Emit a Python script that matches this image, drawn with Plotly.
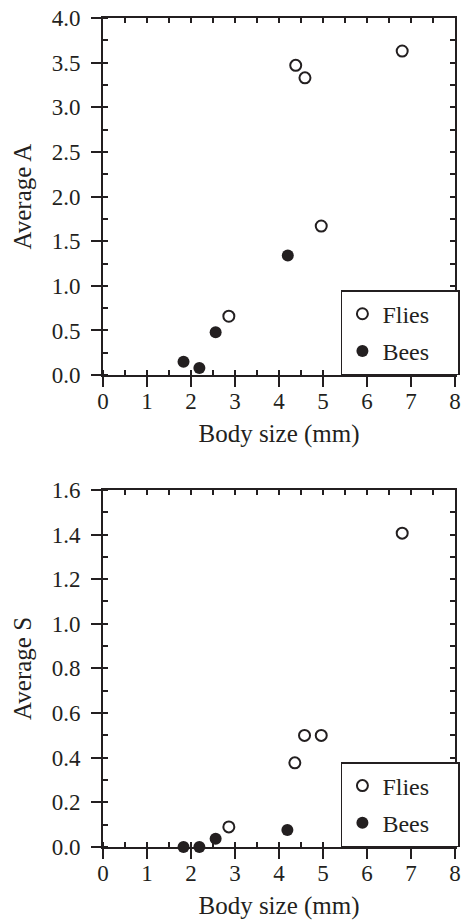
import plotly.graph_objects as go

# ---- data ----
fly_size_A = [2.86, 4.38, 4.59, 4.96, 6.80]
fly_A = [0.66, 3.47, 3.33, 1.67, 3.63]
bee_size_A = [1.83, 2.19, 2.56, 4.20]
bee_A = [0.15, 0.08, 0.48, 1.34]

fly_size_S = [2.86, 4.36, 4.58, 4.96, 6.80]
fly_S = [0.09, 0.377, 0.50, 0.50, 1.406]
bee_size_S = [1.83, 2.19, 2.56, 4.19]
bee_S = [0.0, 0.0, 0.037, 0.076]

series_names = ["Flies", "Bees"]
x_title = "Body size (mm)"
y_title_top = "Average A"
y_title_bot = "Average S"

FONT = "Liberation Serif, Times New Roman, serif"
INK = "#231f20"
TOP_DOM = [0.5692, 1.0]
BOT_DOM = [0.0, 0.4308]
PAD = "\u00a0" * 4  # trailing room inside the legend box

fig = go.Figure()

open_marker = dict(symbol="circle-open", size=11, color=INK, line=dict(width=2, color=INK))
fill_marker = dict(symbol="circle", size=12, color=INK, line=dict(width=0))

fig.add_trace(go.Scatter(x=fly_size_A, y=fly_A, mode="markers", name=series_names[0] + PAD,
                         marker=open_marker, xaxis="x", yaxis="y", legend="legend",
                         legendgroup="f1", cliponaxis=False))
fig.add_trace(go.Scatter(x=bee_size_A, y=bee_A, mode="markers", name=series_names[1] + PAD,
                         marker=fill_marker, xaxis="x", yaxis="y", legend="legend",
                         legendgroup="b1", cliponaxis=False))
fig.add_trace(go.Scatter(x=fly_size_S, y=fly_S, mode="markers", name=series_names[0] + PAD,
                         marker=open_marker, xaxis="x2", yaxis="y2", legend="legend2",
                         legendgroup="f2", cliponaxis=False))
fig.add_trace(go.Scatter(x=bee_size_S, y=bee_S, mode="markers", name=series_names[1] + PAD,
                         marker=fill_marker, xaxis="x2", yaxis="y2", legend="legend2",
                         legendgroup="b2", cliponaxis=False))
# empty traces so the mirrored tick axes are drawn
fig.add_trace(go.Scatter(x=[], y=[], xaxis="x3", yaxis="y3", showlegend=False, hoverinfo="skip"))
fig.add_trace(go.Scatter(x=[], y=[], xaxis="x4", yaxis="y4", showlegend=False, hoverinfo="skip"))

tickfont = dict(family=FONT, size=23, color=INK)
titlefont = dict(family=FONT, size=25, color=INK)

def xax(anchor):
    return dict(range=[0, 8], dtick=1, tick0=0, ticks="outside", ticklen=10, tickwidth=1.5,
                tickcolor=INK, showline=True, linewidth=2, linecolor=INK, mirror=True,
                showgrid=False, zeroline=False, tickfont=tickfont, anchor=anchor,
                ticklabelstandoff=-6,
                title=dict(text=x_title, font=titlefont, standoff=12),
                minor=dict(ticks="inside", dtick=0.5, ticklen=5, tickwidth=1.5, tickcolor=INK,
                           showgrid=False))

def yax(rng, dt, mdt, title, dom, anchor):
    return dict(range=rng, dtick=dt, tick0=0, ticks="outside", ticklen=10, tickwidth=1.5,
                tickcolor=INK, showline=True, linewidth=2, linecolor=INK, mirror=True,
                showgrid=False, zeroline=False, tickfont=tickfont, tickformat=".1f",
                domain=dom, anchor=anchor, ticklabelstandoff=6,
                title=dict(text=title, font=titlefont, standoff=13),
                minor=dict(ticks="inside", dtick=mdt, ticklen=5, tickwidth=1.5, tickcolor=INK,
                           showgrid=False))

def mirror_x(over, anchor):
    return dict(overlaying=over, anchor=anchor, side="top", range=[0, 8], dtick=0.5, tick0=0,
                ticks="inside", ticklen=5, tickwidth=1.5, tickcolor=INK, showticklabels=False,
                showline=False, showgrid=False, zeroline=False)

def mirror_y(over, anchor, rng, dt):
    return dict(overlaying=over, anchor=anchor, side="right", range=rng, dtick=dt, tick0=0,
                ticks="inside", ticklen=5, tickwidth=1.5, tickcolor=INK, showticklabels=False,
                showline=False, showgrid=False, zeroline=False)

legend_style = dict(xref="paper", yref="paper", x=1.0 + 5 / 358, xanchor="right", yanchor="bottom",
                    bgcolor="white", bordercolor=INK, borderwidth=1.5,
                    font=dict(family=FONT, size=24, color=INK), traceorder="grouped",
                    tracegroupgap=3)

fig.update_layout(
    width=467, height=924,
    margin=dict(l=103, r=6, t=16, b=77),
    paper_bgcolor="white", plot_bgcolor="white",
    showlegend=True,
    xaxis=xax("y"),
    yaxis=yax([0, 4], 0.5, 0.25, y_title_top, TOP_DOM, "x"),
    xaxis2=xax("y2"),
    yaxis2=yax([0, 1.6], 0.2, 0.1, y_title_bot, BOT_DOM, "x2"),
    xaxis3=mirror_x("x", "y"),
    yaxis3=mirror_y("y", "x", [0, 4], 0.25),
    xaxis4=mirror_x("x2", "y2"),
    yaxis4=mirror_y("y2", "x2", [0, 1.6], 0.1),
    legend=dict(y=TOP_DOM[0], **legend_style),
    legend2=dict(y=BOT_DOM[0], **legend_style),
)

fig.write_html("out.html")
